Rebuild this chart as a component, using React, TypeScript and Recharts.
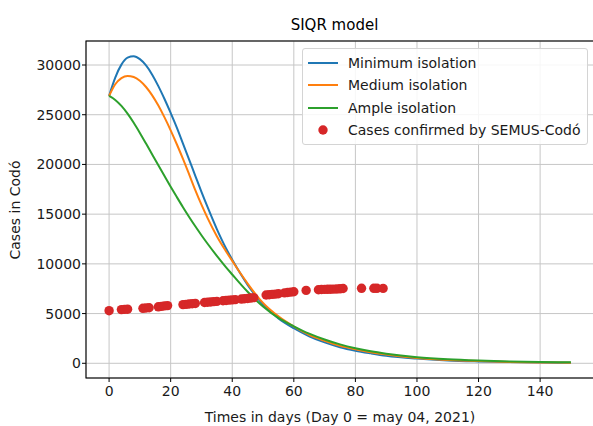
import React from "react";
import { ComposedChart, Line, Scatter, XAxis, YAxis, CartesianGrid } from "recharts";

const curveDays = [0, 2, 4, 6, 8, 10, 12, 14, 16, 18, 20, 22, 24, 26, 28, 30, 32, 35, 38, 40, 43, 45, 48, 50, 55, 60, 65, 70, 75, 80, 85, 90, 100, 110, 120, 130, 140, 150];
const minimumIsolation = [26890, 28740, 30040, 30740, 30880, 30590, 29960, 29030, 27880, 26580, 25180, 23710, 22100, 20480, 18860, 17240, 15700, 13500, 11550, 10420, 8850, 7880, 6640, 5920, 4520, 3530, 2720, 2100, 1620, 1270, 1000, 760, 470, 290, 190, 120, 80, 50];
const mediumIsolation = [26890, 28060, 28680, 28900, 28800, 28420, 27790, 26950, 25920, 24730, 23430, 22030, 20550, 19000, 17420, 15950, 14600, 12780, 11250, 10300, 8900, 8020, 6790, 6070, 4720, 3700, 2850, 2250, 1750, 1400, 1100, 880, 540, 340, 220, 140, 90, 60];
const ampleIsolation = [26890, 26490, 25890, 25110, 24190, 23170, 22095, 21000, 19910, 18830, 17760, 16720, 15700, 14720, 13780, 12880, 12020, 10800, 9650, 8930, 7860, 7190, 6270, 5720, 4560, 3720, 2980, 2390, 1900, 1510, 1200, 960, 610, 400, 270, 180, 130, 100];

const semusDays = [0, 4, 5, 6, 11, 12, 13, 16, 17, 18, 19, 24, 25, 26, 27, 28, 31, 32, 33, 34, 35, 37, 38, 39, 40, 41, 43, 44, 45, 46, 47, 51, 52, 53, 54, 55, 57, 58, 59, 60, 64, 68, 69, 70, 71, 72, 73, 74, 75, 76, 82, 86, 87, 89];
const semusCases = [5290, 5400, 5420, 5440, 5530, 5560, 5590, 5680, 5720, 5770, 5800, 5900, 5930, 5960, 5990, 6020, 6110, 6140, 6170, 6200, 6230, 6290, 6320, 6350, 6380, 6400, 6460, 6490, 6520, 6560, 6600, 6870, 6900, 6930, 6960, 6990, 7080, 7120, 7160, 7200, 7330, 7400, 7420, 7430, 7440, 7450, 7460, 7470, 7490, 7520, 7540, 7540, 7540, 7530];

const xTicks = [0, 20, 40, 60, 80, 100, 120, 140];
const yTicks = [0, 5000, 10000, 15000, 20000, 25000, 30000];

const seriesNames = ["Minimum isolation", "Medium isolation", "Ample isolation", "Cases confirmed by SEMUS-Codó"];
const seriesColors = ["#1f77b4", "#ff7f0e", "#2ca02c", "#d62728"];

const toData = (vals: number[]) => curveDays.map((t, i) => ({ t, v: vals[i] }));
const minData = toData(minimumIsolation);
const medData = toData(mediumIsolation);
const ampData = toData(ampleIsolation);
const semusData = semusDays.map((t, i) => ({ t, v: semusCases[i] }));

const FONT = "'DejaVu Sans', sans-serif";
const tickStyle = { fontSize: 14, fill: "#1a1a1a", fontFamily: FONT };

const Dot = (p: any) => <circle cx={p.cx} cy={p.cy} r={4.7} fill="#d62728" />;

export default function App() {
  return (
    <div style={{ position: "absolute", left: 0, top: 0, width: 593, height: 426, overflow: "hidden", background: "#fff", fontFamily: FONT }}>
      <ComposedChart width={600} height={426} margin={{ top: 41, right: 6, bottom: 0, left: 0 }}>
        <CartesianGrid stroke="#c6c6c6" strokeWidth={1} />
        <XAxis
          type="number"
          dataKey="t"
          domain={[-7.5, 157.5]}
          ticks={xTicks}
          allowDataOverflow
          height={48}
          tickSize={4}
          tickMargin={4}
          axisLine={false}
          tickLine={{ stroke: "#000" }}
          tick={tickStyle}
          interval={0}
        />
        <YAxis
          type="number"
          dataKey="v"
          domain={[-1480, 32415]}
          ticks={yTicks}
          allowDataOverflow
          width={86}
          tickSize={4}
          tickMargin={1}
          axisLine={false}
          tickLine={{ stroke: "#000" }}
          tick={tickStyle}
          interval={0}
        />
        <Scatter data={semusData} dataKey="v" fill="#d62728" shape={Dot} isAnimationActive={false} />
        <Line data={minData} dataKey="v" type="monotone" stroke={seriesColors[0]} strokeWidth={2} dot={false} isAnimationActive={false} />
        <Line data={medData} dataKey="v" type="monotone" stroke={seriesColors[1]} strokeWidth={2} dot={false} isAnimationActive={false} />
        <Line data={ampData} dataKey="v" type="monotone" stroke={seriesColors[2]} strokeWidth={2} dot={false} isAnimationActive={false} />
      </ComposedChart>

      <svg width={593} height={426} style={{ position: "absolute", left: 0, top: 0, pointerEvents: "none" }}>
        <rect x={86} y={41} width={508} height={337} fill="none" stroke="#000" strokeWidth={1.1} />
        <text x={334.5} y={30} textAnchor="middle" fontSize={15} fontFamily={FONT} fill="#000">SIQR model</text>
        <text x={340} y={422} textAnchor="middle" fontSize={14} fontFamily={FONT} fill="#1a1a1a">Times in days (Day 0 = may 04, 2021)</text>
        <text x={20} y={210} transform="rotate(-90 20 210)" textAnchor="middle" fontSize={14} fontFamily={FONT} fill="#1a1a1a">Cases in Codó</text>
      </svg>

      <div style={{ position: "absolute", left: 301.5, top: 48, width: 286, height: 97, background: "rgba(255,255,255,0.85)", border: "1px solid #d4d4d4", borderRadius: 3, boxSizing: "border-box" }}>
        {seriesNames.map((name, i) => (
          <div key={name} style={{ position: "absolute", left: 0, top: 13.5 + i * 22.6 - 10, height: 20, width: 284 }}>
            <svg width={40} height={20} style={{ position: "absolute", left: 0, top: 0 }}>
              {i < 3 ? (
                <line x1={5} y1={10} x2={35} y2={10} stroke={seriesColors[i]} strokeWidth={2} />
              ) : (
                <circle cx={20} cy={10} r={4.7} fill={seriesColors[i]} />
              )}
            </svg>
            <span style={{ position: "absolute", left: 45.5, top: 0, lineHeight: "20px", fontSize: 14, fontFamily: FONT, color: "#1a1a1a", whiteSpace: "nowrap" }}>{name}</span>
          </div>
        ))}
      </div>
    </div>
  );
}
